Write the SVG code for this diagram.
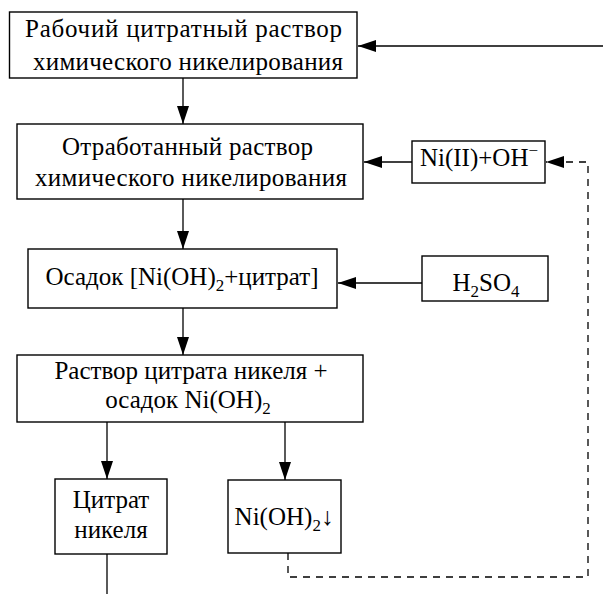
<svg xmlns="http://www.w3.org/2000/svg" width="603" height="594" viewBox="0 0 603 594" font-family="Liberation Serif, DejaVu Serif, serif">
<defs>
<marker id="ah" markerUnits="userSpaceOnUse" markerWidth="18" markerHeight="12" refX="18" refY="6" orient="auto">
<path d="M0,0 L18,6 L0,12 z" fill="#000"/>
</marker>
<style>
rect{fill:#fff;stroke:#000;stroke-width:1.4}
text{font-family:'Liberation Serif','DejaVu Serif',serif;font-size:25px;fill:#000;text-anchor:middle}
.c{fill:none;stroke:#000;stroke-width:1.3}
.d{stroke-dasharray:7,6}
.sub{font-size:17px}
</style>
</defs>
<rect x="0" y="0" width="603" height="594" style="fill:#fff;stroke:none"/>
<g id="connectors">
<path class="c" d="M603,46 H358" marker-end="url(#ah)"/>
<path class="c" d="M183,78 V124" marker-end="url(#ah)"/>
<path class="c" d="M183,199 V249" marker-end="url(#ah)"/>
<path class="c" d="M183,308 V355" marker-end="url(#ah)"/>
<path class="c" d="M412,162 H364" marker-end="url(#ah)"/>
<path class="c" d="M422,283 H338" marker-end="url(#ah)"/>
<path class="c" d="M107,422 V479" marker-end="url(#ah)"/>
<path class="c" d="M285,422 V480" marker-end="url(#ah)"/>
<path class="c" d="M107,554 V594"/>
<path class="c d" d="M288,553 V577 H588 V162 H546" marker-end="url(#ah)"/>
</g>
<g id="n1">
<rect x="9.5" y="12" width="347.5" height="66"/>
<text x="183.5" y="37" textLength="317" lengthAdjust="spacing">Рабочий цитратный раствор</text>
<text x="188" y="70" textLength="310" lengthAdjust="spacing">химического никелирования</text>
</g>
<g id="n2">
<rect x="17" y="124" width="346" height="75"/>
<text x="187.5" y="155" textLength="251" lengthAdjust="spacing">Отработанный раствор</text>
<text x="191" y="186" textLength="312" lengthAdjust="spacing">химического никелирования</text>
</g>
<g id="n3">
<rect x="412" y="141" width="133" height="42"/>
<text x="479" y="166">Ni(II)+OH<tspan font-size="17" dy="-10">−</tspan></text>
</g>
<g id="n4">
<rect x="28" y="249" width="309" height="59"/>
<text x="182" y="285">Осадок [Ni(OH)<tspan class="sub" dy="6">2</tspan><tspan dy="-6">+цитрат]</tspan></text>
</g>
<g id="n5">
<rect x="422" y="256" width="126" height="45"/>
<text x="486" y="291">H<tspan class="sub" dy="6">2</tspan><tspan dy="-6">SO</tspan><tspan class="sub" dy="6">4</tspan></text>
</g>
<g id="n6">
<rect x="17" y="355" width="346" height="67"/>
<text x="191" y="379">Раствор цитрата никеля +</text>
<text x="188" y="408">осадок Ni(OH)<tspan class="sub" dy="6">2</tspan></text>
</g>
<g id="n7">
<rect x="55" y="479" width="112" height="75"/>
<text x="111" y="508">Цитрат</text>
<text x="111" y="538">никеля</text>
</g>
<g id="n8">
<rect x="228" y="480" width="113" height="73"/>
<text x="284" y="525">Ni(OH)<tspan class="sub" dy="6">2</tspan><tspan dy="-6">↓</tspan></text>
</g>
</svg>
